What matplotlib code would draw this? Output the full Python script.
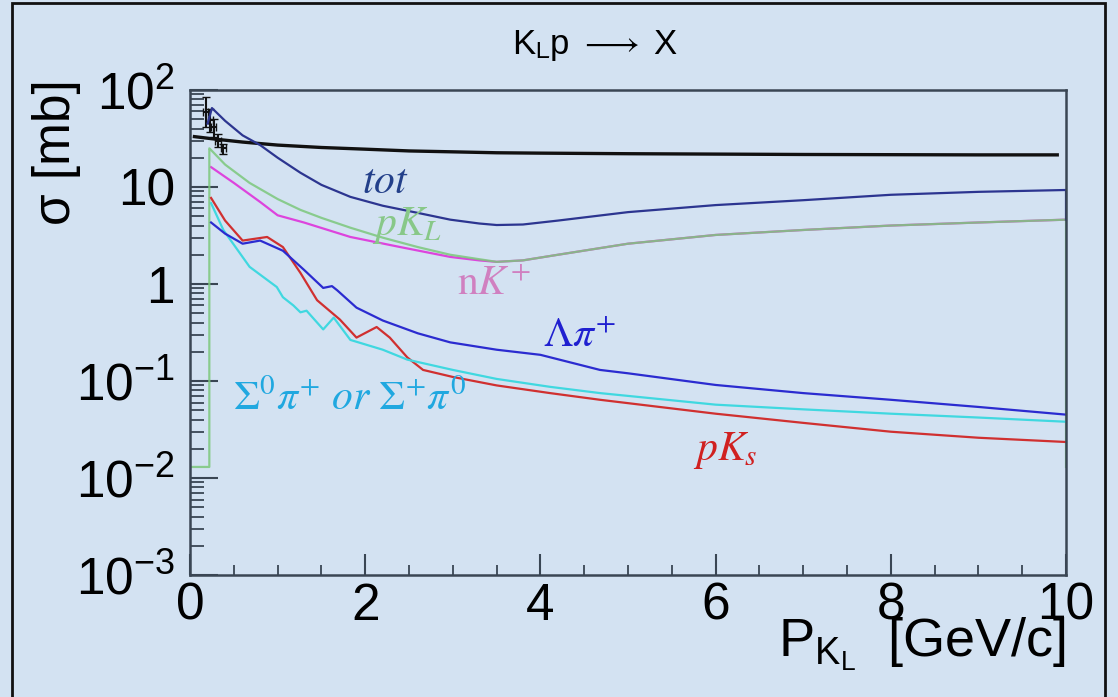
import matplotlib
matplotlib.use("Agg")
import matplotlib.pyplot as plt
from matplotlib.patches import Rectangle
from matplotlib.ticker import FixedLocator, LogLocator, MultipleLocator, NullFormatter

plt.rcParams["font.family"] = ["Liberation Sans", "DejaVu Sans"]
plt.rcParams["mathtext.fontset"] = "custom"
plt.rcParams["mathtext.rm"] = "Liberation Sans"
plt.rcParams["mathtext.it"] = "Liberation Sans:italic"

# --- data (P in GeV/c, sigma in mb) ---
meas_x = [0.05, 0.3, 0.6, 1.0, 1.5, 2.0, 2.5, 3.0, 3.5, 4.0, 5.0, 6.0, 7.0, 8.0, 9.0, 9.9]
meas_y = [33, 31, 29, 27, 25.5, 24.5, 23.5, 23, 22.5, 22.3, 22, 21.8, 21.6, 21.5, 21.4, 21.4]

pts_x = [0.18, 0.23, 0.27, 0.32, 0.38]
pts_y = [59, 49, 41, 30, 25]
pts_lo = [18, 12, 8, 4, 3]
pts_hi = [26, 14, 9, 5, 3]

tot_x = [0.2, 0.25, 0.4, 0.6, 0.8, 1.0, 1.26, 1.5, 1.83, 2.2, 2.6, 2.97, 3.3, 3.5, 3.8, 4.2,
         5.0, 6.0, 7.0, 8.0, 9.0, 10.0, 10.0]
tot_y = [45, 65, 48, 34, 27, 20, 14, 10.5, 7.9, 6.4, 5.4, 4.6, 4.2, 4.05, 4.1, 4.5,
         5.5, 6.5, 7.3, 8.3, 8.9, 9.3, 4.6]

pkl_x = [0.0, 0.22, 0.22, 0.24, 0.4, 0.68, 1.0, 1.26, 1.5, 1.83, 2.2, 2.6, 2.97, 3.3, 3.5,
         3.8, 4.2, 5.0, 6.0, 7.0, 8.0, 9.0, 10.0, 10.0]
pkl_y = [0.013, 0.013, 25, 24, 17, 11, 7.5, 5.8, 4.8, 3.8, 3.0, 2.4, 2.0, 1.8, 1.69,
         1.75, 2.0, 2.6, 3.2, 3.6, 4.0, 4.3, 4.6, 0.013]

nk_x = [0.24, 0.5, 0.8, 1.0, 1.3, 1.83, 2.4, 2.97, 3.3, 3.5, 3.8, 4.2, 5.0, 6.0, 7.0, 8.0, 9.0, 10.0]
nk_y = [16, 11, 7, 5.1, 4.3, 3.05, 2.4, 1.9, 1.75, 1.69, 1.75, 2.0, 2.6, 3.2, 3.6, 4.0, 4.3, 4.6]

lam_x = [0.24, 0.4, 0.6, 0.8, 1.06, 1.3, 1.52, 1.62, 1.68, 1.9, 2.2, 2.6, 2.97, 3.5, 4.0,
         4.68, 5.0, 6.0, 7.0, 8.0, 9.0, 10.0]
lam_y = [4.3, 3.3, 2.6, 2.8, 2.2, 1.4, 0.91, 0.95, 0.86, 0.57, 0.42, 0.31, 0.25, 0.21, 0.186,
         0.13, 0.12, 0.091, 0.075, 0.064, 0.054, 0.045]

pks_x = [0.24, 0.4, 0.6, 0.88, 1.06, 1.26, 1.45, 1.71, 1.9, 2.13, 2.28, 2.48, 2.66, 3.0, 3.5,
         4.11, 4.68, 6.0, 7.0, 8.0, 9.0, 10.0]
pks_y = [7.7, 4.5, 2.8, 3.05, 2.4, 1.3, 0.68, 0.43, 0.28, 0.36, 0.28, 0.175, 0.13, 0.11, 0.09,
         0.075, 0.064, 0.046, 0.037, 0.030, 0.026, 0.0235]

sig_x = [0.24, 0.38, 0.68, 0.99, 1.06, 1.18, 1.26, 1.33, 1.52, 1.64, 1.83, 2.2, 2.48, 3.0, 3.5,
         4.11, 4.68, 6.0, 7.0, 8.0, 9.0, 10.0]
sig_y = [6.8, 3.6, 1.5, 0.93, 0.73, 0.6, 0.51, 0.53, 0.34, 0.45, 0.265, 0.21, 0.166, 0.13, 0.105,
         0.087, 0.075, 0.057, 0.051, 0.046, 0.042, 0.038]

ytick_vals = [1e-3, 1e-2, 1e-1, 1, 10, 100]
ytick_text = [r"$10^{-3}$", r"$10^{-2}$", r"$10^{-1}$", "1", "10", r"$10^{2}$"]

bg = "#d3e2f2"
axc = "#3a4654"

fig = plt.figure(figsize=(11.18, 6.97), dpi=100, facecolor=bg)
fig.patches.append(Rectangle((0.0107, -0.01), 0.978, 1.0057, transform=fig.transFigure,
                             fill=False, edgecolor="#111111", linewidth=2))
ax = fig.add_axes([0.170, 0.175, 0.7835, 0.696], facecolor=bg)

ax.plot(meas_x, meas_y, color="#111111", lw=2.4)
ax.errorbar(pts_x, pts_y, yerr=[pts_lo, pts_hi], xerr=0.03, fmt="none",
            ecolor="#111111", elinewidth=1.5, capsize=3)
ax.plot(nk_x, nk_y, color="#dd44dd", lw=1.6)
ax.plot(pkl_x, pkl_y, color="#7cc87c", lw=1.6, alpha=0.85)
ax.plot(tot_x, tot_y, color="#2c3590", lw=1.6)
ax.plot(pks_x, pks_y, color="#d03030", lw=1.6)
ax.plot(sig_x, sig_y, color="#40d8e0", lw=1.6)
ax.plot(lam_x, lam_y, color="#2b2bd0", lw=1.6)

ax.set_yscale("log")
ax.set_xlim(0, 10)
ax.set_ylim(1e-3, 100)

ax.yaxis.set_major_locator(FixedLocator(ytick_vals))
ax.set_yticklabels(ytick_text)
ax.yaxis.set_minor_locator(LogLocator(base=10, subs=range(2, 10), numticks=100))
ax.yaxis.set_minor_formatter(NullFormatter())
ax.xaxis.set_major_locator(MultipleLocator(2))
ax.xaxis.set_minor_locator(MultipleLocator(0.5))

ax.tick_params(axis="both", which="both", direction="in", color=axc, top=False, right=False)
ax.tick_params(axis="y", which="major", length=20, width=1.5, labelsize=37, pad=11)
ax.tick_params(axis="y", which="minor", length=10, width=1.3)
ax.tick_params(axis="x", which="major", length=15, width=1.5, labelsize=37, pad=5)
ax.tick_params(axis="x", which="minor", length=7, width=1.3)
for s in ax.spines.values():
    s.set_color(axc)
    s.set_linewidth(1.8)

ax.set_ylabel("σ [mb]", fontsize=37)
ax.yaxis.set_label_coords(-0.125, 0.872)
ax.text(1.0, -0.083, r"$\mathrm{P_{K_{L}}}$  [GeV/c]", transform=ax.transAxes,
        ha="right", va="top", fontsize=39)
fig.text(0.532, 0.935, r"K$_\mathrm{L}$p $\longrightarrow$ X", ha="center", va="center",
         fontsize=25, math_fontfamily="stixsans")

lab = dict(math_fontfamily="stix", fontsize=30, va="baseline")
ax.text(1.96, 8.7, r"$tot$", color="#23408a", **lab)
ax.text(2.08, 3.2, r"$pK_L$", color="#88c888", **lab)
ax.text(3.05, 0.77, r"$\mathrm{n}K^{+}$", color="#d080c0", **lab)
ax.text(4.03, 0.224, r"$\Lambda\pi^{+}$", color="#2020d0", **lab)
ax.text(0.49, 0.050, r"$\Sigma^{0}\pi^{+}\ or\ \Sigma^{+}\pi^{0}$", color="#20a8e0", **lab)
ax.text(5.74, 0.0153, r"$pK_{s}$", color="#d02020", **lab)

fig.savefig("out.png", dpi=100, facecolor=bg)
